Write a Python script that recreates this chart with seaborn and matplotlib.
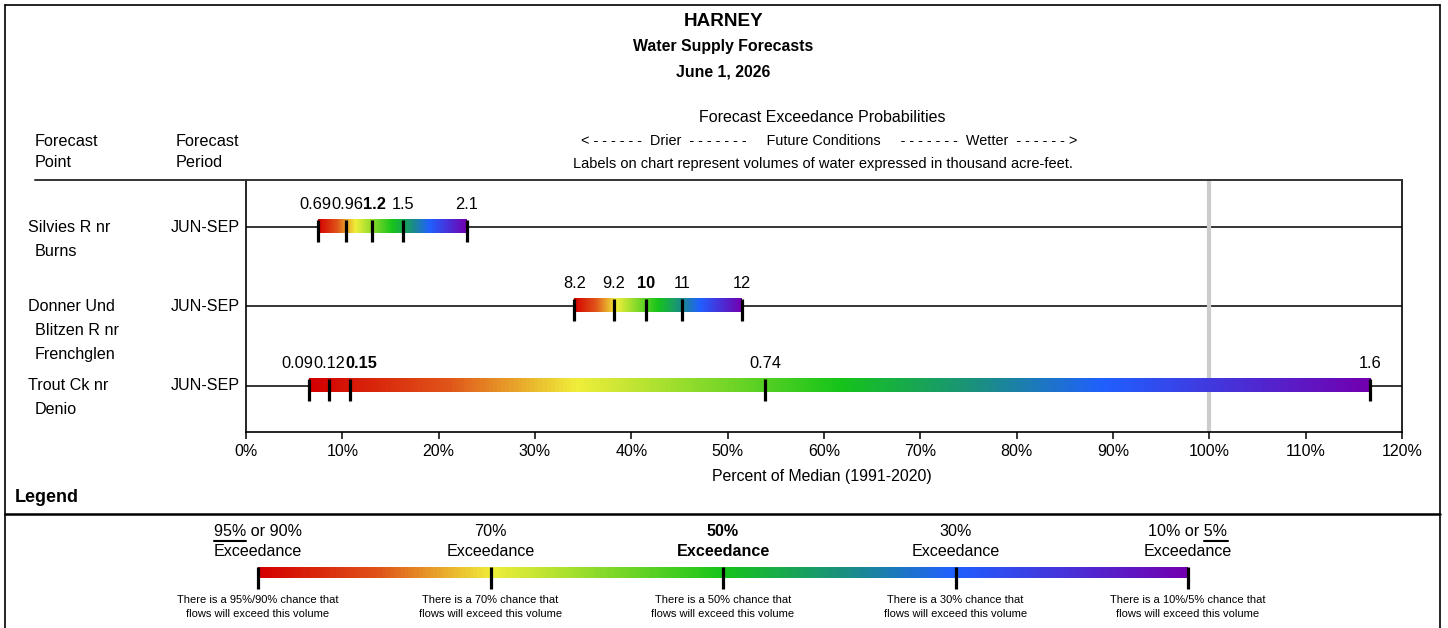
import numpy as np
import pandas as pd
import matplotlib
matplotlib.use('Agg')
import matplotlib.pyplot as plt
import seaborn as sns
from matplotlib.colors import LinearSegmentedColormap
from matplotlib.lines import Line2D

basin = 'HARNEY'
issue_date = 'June 1, 2026'

point_names = [['Silvies R nr', 'Burns'],
               ['Donner Und', 'Blitzen R nr', 'Frenchglen'],
               ['Trout Ck nr', 'Denio']]
periods = ['JUN-SEP', 'JUN-SEP', 'JUN-SEP']

# percent of median at the 90/70/50/30/10 exceedance levels, and the kaf labels
silvies_pct = [7.5, 10.4, 13.1, 16.3, 22.9]
silvies_kaf = ['0.69', '0.96', '1.2', '1.5', '2.1']
donner_pct = [34.1, 38.2, 41.5, 45.3, 51.5]
donner_kaf = ['8.2', '9.2', '10', '11', '12']
trout_pct = [6.5, 8.6, 10.8, 53.9, 116.7]
trout_kaf = ['0.09', '0.12', '0.15', '0.74', '1.6']

x_ticks = [0, 10, 20, 30, 40, 50, 60, 70, 80, 90, 100, 110, 120]

legend_levels = ['95% or 90%', '70%', '50%', '30%', '10% or 5%']
legend_notes = ['95%/90%', '70%', '50%', '30%', '10%/5%']

W, H = 1448, 628

sns.set_theme(style='white')
plt.rcParams['font.family'] = ['Liberation Sans', 'DejaVu Sans']

cmap = LinearSegmentedColormap.from_list('exceed', [
    (0.0, '#d40000'), (0.13, '#e0561a'), (0.25, '#f0ee3a'),
    (0.5, '#16c41a'), (0.63, '#1a9080'), (0.75, '#2060ff'), (1.0, '#7200b0')])
grad = np.linspace(0, 1, 256)[None, :]

fig = plt.figure(figsize=(W / 100, H / 100), dpi=100)


def ft(x, y, s, **kw):
    kw.setdefault('va', 'center')
    kw.setdefault('color', 'black')
    return fig.text(x / W, 1 - y / H, s, **kw)


def fline(x0, y0, x1, y1, lw=1.2, color='black'):
    fig.add_artist(Line2D([x0 / W, x1 / W], [1 - y0 / H, 1 - y1 / H],
                          transform=fig.transFigure, lw=lw, color=color))


# frame
fline(4.5, 4.5, 1440, 4.5)
fline(4.5, 4.5, 4.5, 628)
fline(1440, 4.5, 1440, 628)
fline(35, 180, 246, 180, lw=1.4, color='#333333')
fline(4.5, 514, 1440, 514, lw=1.8)

# header
ft(724, 21, basin, ha='center', fontsize=13.6, fontweight='bold')
ft(723, 47, 'Water Supply Forecasts', ha='center', fontsize=11.4, fontweight='bold')
ft(723, 72, issue_date, ha='center', fontsize=11.4, fontweight='bold')
ft(822, 117, 'Forecast Exceedance Probabilities', ha='center', fontsize=11.5)
ft(829, 141, '< - - - - - -  Drier  - - - - - - -     Future Conditions     '
   '- - - - - - -  Wetter  - - - - - - >', ha='center', fontsize=10.4)
ft(823, 164, 'Labels on chart represent volumes of water expressed in thousand acre-feet.',
   ha='center', fontsize=10.5)
ft(35, 141, 'Forecast', fontsize=11.7)
ft(35, 162, 'Point', fontsize=11.7)
ft(176, 141, 'Forecast', fontsize=11.7)
ft(176, 162, 'Period', fontsize=11.7)

# main chart
ax = fig.add_axes([246 / W, 1 - 432 / H, (1402 - 246) / W, (432 - 180) / H])
rows = [0, 1, 2]
row_px = [227, 306.5, 386]
all_pct = [silvies_pct, donner_pct, trout_pct]
all_kaf = [silvies_kaf, donner_kaf, trout_kaf]

for r in rows:
    ax.axhline(r, color='black', lw=1.1, zorder=1)
ax.axvline(100, color='#cccccc', lw=3, zorder=1.5)

recs = []
for r, pcts, kafs in zip(rows, all_pct, all_kaf):
    ax.imshow(grad, cmap=cmap, aspect='auto', interpolation='bilinear',
              extent=[pcts[0], pcts[-1], r + 0.075, r - 0.093], zorder=2)
    for i, (p, k) in enumerate(zip(pcts, kafs)):
        recs.append({'row': r, 'pct': p, 'kaf': k, 'median': i == 2})
ticks = pd.DataFrame(recs)
ticks['ymark'] = ticks['row'] + 0.045

sns.scatterplot(data=ticks, x='pct', y='ymark', marker='|', s=250, color='black',
                linewidth=2.3, ax=ax, legend=False, zorder=4)

ax.set_xlim(0, 120)
ax.set_ylim(2 + 46 / 79.5, -47 / 79.5)

labels = {}
for idx, t in ticks.iterrows():
    labels[idx] = ax.text(t['pct'], t['row'] - 0.285, t['kaf'], ha='center', va='center',
                          fontsize=11.8, fontweight='bold' if t['median'] else 'normal',
                          color='black')

for (r, names, per, ypx) in zip(rows, point_names, periods, row_px):
    for j, nm in enumerate(names):
        ft(28 if j == 0 else 35, ypx + 24 * j, nm, fontsize=11.6)
    ft(240, ypx, per, ha='right', fontsize=11.6)

ax.set_xticks(x_ticks)
ax.set_xticklabels([f'{v}%' for v in x_ticks])
ax.set_yticks([])
ax.set_xlabel('')
ax.set_ylabel('')
ax.tick_params(axis='x', bottom=True, direction='out', length=5, width=1.1,
               color='black', labelsize=11.5, pad=4, labelcolor='black')
for side in ['left', 'right', 'bottom']:
    ax.spines[side].set_color('black')
    ax.spines[side].set_linewidth(1.2)
ax.spines['top'].set_color('#333333')
ax.spines['top'].set_linewidth(1.4)
ft(822, 476, 'Percent of Median (1991-2020)', ha='center', fontsize=11.4)

# legend
ft(15, 497, 'Legend', fontsize=13, fontweight='bold')
lax = fig.add_axes([258 / W, 1 - 595 / H, 930 / W, 35 / H])
lax.imshow(grad, cmap=cmap, aspect='auto', interpolation='bilinear',
           extent=[0, 4, 578, 567], zorder=1)
lticks = pd.DataFrame({'pos': range(len(legend_levels)), 'y': 577.5})
sns.scatterplot(data=lticks, x='pos', y='y', marker='|', s=230, color='black',
                linewidth=2.3, ax=lax, legend=False, zorder=3, clip_on=False)
lax.set_xlim(0, 4)
lax.set_ylim(595, 560)
lax.axis('off')

lvl_texts = []
for i, (lvl, note) in enumerate(zip(legend_levels, legend_notes)):
    xp = 258 + i * 232.5
    wt = 'bold' if i == 2 else 'normal'
    lvl_texts.append(ft(xp, 531, lvl, ha='center', fontsize=11.6, fontweight=wt))
    ft(xp, 551, 'Exceedance', ha='center', fontsize=11.6, fontweight=wt)
    ft(xp, 600, f'There is a {note} chance that', ha='center', fontsize=8)
    ft(xp, 614, 'flows will exceed this volume', ha='center', fontsize=8)

fig.canvas.draw()
rend = fig.canvas.get_renderer()

# spread crowded value labels apart so they sit side by side
px_per_pct = (1402 - 246) / 120
for r in rows:
    idxs = list(ticks.index[ticks['row'] == r])
    cen = [ticks.loc[i, 'pct'] * px_per_pct for i in idxs]
    wid = [labels[i].get_window_extent(rend).width for i in idxs]
    for _ in range(60):
        for k in range(len(idxs) - 1):
            ov = (cen[k] + wid[k] / 2) - (cen[k + 1] - wid[k + 1] / 2)
            if ov > 0:
                cen[k] -= ov / 2
                cen[k + 1] += ov / 2
    for i, c in zip(idxs, cen):
        labels[i].set_x(c / px_per_pct)

# underline 95% and 5%
tmp = ft(0, 0, '95%', fontsize=11.6)
w95 = tmp.get_window_extent(rend).width
tmp.set_text('5%')
w5 = tmp.get_window_extent(rend).width
tmp.remove()
b0 = lvl_texts[0].get_window_extent(rend)
b4 = lvl_texts[4].get_window_extent(rend)
fline(b0.x0, 541, b0.x0 + w95, 541, lw=1.5)
fline(b4.x1 - w5, 541, b4.x1, 541, lw=1.5)

fig.savefig('out.png', dpi=100, facecolor='white')
